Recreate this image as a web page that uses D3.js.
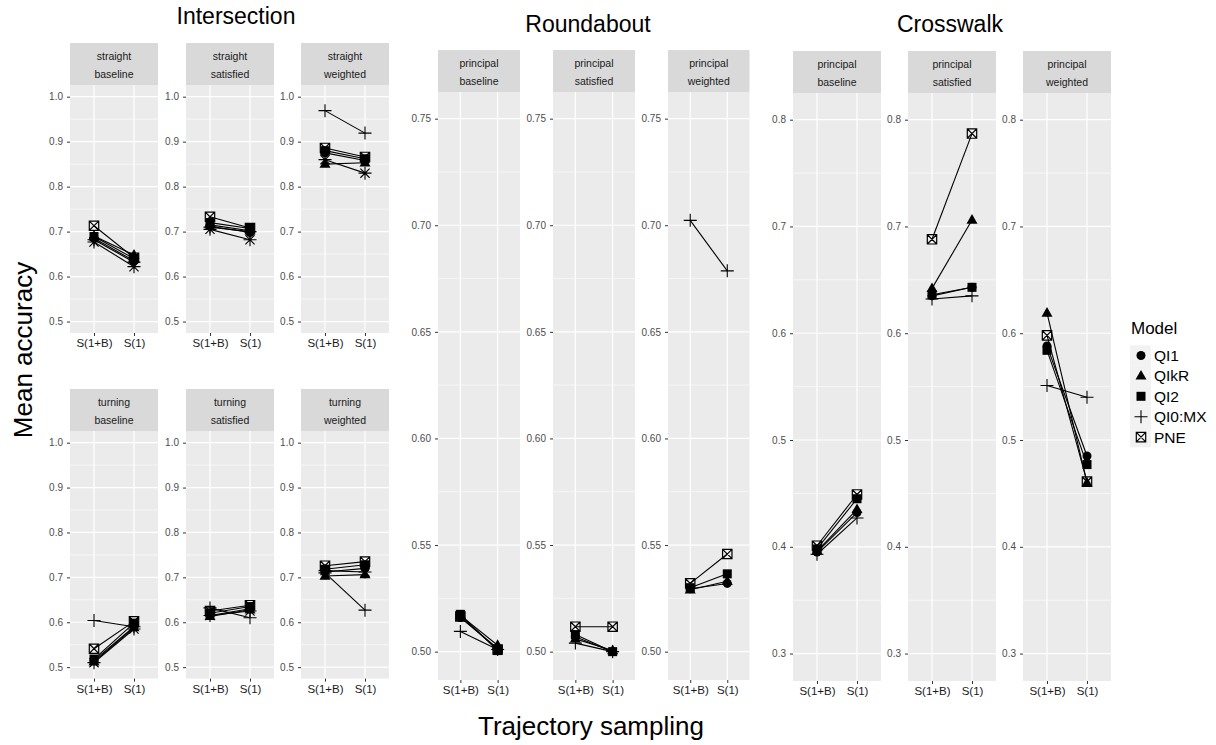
<!DOCTYPE html>
<html>
<head>
<meta charset="utf-8">
<script src="https://cdn.jsdelivr.net/npm/d3@7"></script>
<style>
  html, body { margin: 0; padding: 0; background: #fff; }
  svg { display: block; font-family: "Liberation Sans", Arial, sans-serif; }
</style>
</head>
<body>
<svg id="chart" width="1216" height="745"></svg>
<script>
// ---- data ---------------------------------------------------------------
const samplings = ["S(1+B)", "S(1)"];
// order of series inside every panel array below
const models = ["QI1", "QIkR", "QI2", "QI0:MX", "PNE", "QI1:MX"];
const legendModels = ["QI1", "QIkR", "QI2", "QI0:MX", "PNE"];
const shapes = ["circle", "triangle", "square", "plus", "boxcross", "asterisk"];

// Intersection, one [S(1+B), S(1)] pair per model
const intStraightBaseline  = [[0.685, 0.635], [0.690, 0.648], [0.689, 0.640], [0.682, 0.632], [0.713, 0.642], [0.677, 0.622]];
const intStraightSatisfied = [[0.712, 0.698], [0.715, 0.702], [0.720, 0.707], [0.710, 0.700], [0.733, 0.708], [0.705, 0.682]];
const intStraightWeighted  = [[0.875, 0.858], [0.850, 0.853], [0.880, 0.862], [0.969, 0.919], [0.886, 0.866], [0.860, 0.830]];
const intTurningBaseline   = [[0.515, 0.590], [0.512, 0.588], [0.518, 0.598], [0.604, 0.590], [0.541, 0.602], [0.510, 0.585]];
const intTurningSatisfied  = [[0.615, 0.630], [0.613, 0.628], [0.620, 0.635], [0.632, 0.610], [0.625, 0.638], [0.615, 0.625]];
const intTurningWeighted   = [[0.712, 0.720], [0.703, 0.706], [0.718, 0.728], [0.710, 0.627], [0.726, 0.735], [0.715, 0.712]];

// Roundabout (five models)
const rbBaseline  = [[0.5160, 0.5015], [0.5170, 0.5030], [0.5175, 0.5005], [0.5095, 0.5010], [0.5165, 0.5010]];
const rbSatisfied = [[0.5070, 0.5000], [0.5060, 0.5005], [0.5080, 0.5000], [0.5040, 0.5000], [0.5117, 0.5117]];
const rbWeighted  = [[0.5295, 0.5320], [0.5290, 0.5330], [0.5300, 0.5365], [0.7023, 0.6786], [0.5320, 0.5458]];

// Crosswalk (five models)
const cwBaseline  = [[0.395, 0.432], [0.396, 0.435], [0.398, 0.445], [0.393, 0.427], [0.401, 0.449]];
const cwSatisfied = [[0.635, 0.643], [0.642, 0.706], [0.636, 0.643], [0.632, 0.635], [0.688, 0.787]];
const cwWeighted  = [[0.588, 0.485], [0.619, 0.460], [0.584, 0.477], [0.551, 0.540], [0.598, 0.461]];

// axis ticks
const intTicks = [0.5, 0.6, 0.7, 0.8, 0.9, 1.0];
const rbTicks  = [0.50, 0.55, 0.60, 0.65, 0.70, 0.75];
const cwTicks  = [0.3, 0.4, 0.5, 0.6, 0.7, 0.8];

const groupTitles = ["Intersection", "Roundabout", "Crosswalk"];

// ---- layout -------------------------------------------------------------
const svg = d3.select("#chart");
const intCols = [[70, 158], [186, 274], [301, 389]];
const rbCols  = [[438, 520], [553, 635], [668, 749.5]];
const cwCols  = [[793, 881], [908, 996], [1023, 1111]];
const weights = ["baseline", "satisfied", "weighted"];

const panels = [];
const intTop = { strip: 43, top: 85, bottom: 333 };
const intBot = { strip: 389, top: 431, bottom: 678.6 };
[intStraightBaseline, intStraightSatisfied, intStraightWeighted].forEach((v, i) =>
  panels.push({ cols: intCols[i], rows: intTop, domain: [0.4745, 1.026], ticks: intTicks, fmt: d3.format(".1f"),
                strip: ["straight", weights[i]], values: v }));
[intTurningBaseline, intTurningSatisfied, intTurningWeighted].forEach((v, i) =>
  panels.push({ cols: intCols[i], rows: intBot, domain: [0.4745, 1.026], ticks: intTicks, fmt: d3.format(".1f"),
                strip: ["turning", weights[i]], values: v }));
[rbBaseline, rbSatisfied, rbWeighted].forEach((v, i) =>
  panels.push({ cols: rbCols[i], rows: { strip: 50, top: 92, bottom: 680 }, domain: [0.4867, 0.7625], ticks: rbTicks,
                fmt: d3.format(".2f"), strip: ["principal", weights[i]], values: v }));
[cwBaseline, cwSatisfied, cwWeighted].forEach((v, i) =>
  panels.push({ cols: cwCols[i], rows: { strip: 51, top: 93, bottom: 681 }, domain: [0.2743, 0.825], ticks: cwTicks,
                fmt: d3.format(".1f"), strip: ["principal", weights[i]], values: v }));

// ---- point shapes -------------------------------------------------------
function drawShape(g, shape, cx, cy) {
  const s = g.append("g").attr("transform", `translate(${cx},${cy})`);
  if (shape === "circle") {
    s.append("circle").attr("r", 4.5).attr("fill", "#000");
  } else if (shape === "triangle") {
    s.append("path").attr("d", "M0,-6L5.5,3.7L-5.5,3.7Z").attr("fill", "#000");
  } else if (shape === "square") {
    s.append("rect").attr("x", -4.5).attr("y", -4.5).attr("width", 9).attr("height", 9).attr("fill", "#000");
  } else if (shape === "plus") {
    s.append("path").attr("d", "M-6.5,0H6.5M0,-6.5V6.5").attr("stroke", "#000").attr("stroke-width", 1.1).attr("fill", "none");
  } else if (shape === "boxcross") {
    s.append("path").attr("d", "M-4.7,-4.7H4.7V4.7H-4.7ZM-4.7,-4.7L4.7,4.7M4.7,-4.7L-4.7,4.7")
      .attr("stroke", "#000").attr("stroke-width", 1.2).attr("fill", "none");
  } else if (shape === "asterisk") {
    s.append("path").attr("d", "M-6.5,0H6.5M0,-6.5V6.5M-4.6,-4.6L4.6,4.6M4.6,-4.6L-4.6,4.6")
      .attr("stroke", "#000").attr("stroke-width", 1.1).attr("fill", "none");
  }
}

// ---- panels -------------------------------------------------------------
panels.forEach(p => {
  const [x0, x1] = p.cols;
  const g = svg.append("g");
  const x = d3.scalePoint().domain(samplings).range([x0, x1]).padding(0.6);
  const y = d3.scaleLinear().domain(p.domain).range([p.rows.bottom, p.rows.top]);

  // strip
  g.append("rect").attr("x", x0).attr("y", p.rows.strip).attr("width", x1 - x0)
    .attr("height", p.rows.top - p.rows.strip).attr("fill", "#D9D9D9");
  const sh = p.rows.top - p.rows.strip;
  p.strip.forEach((t, k) => {
    g.append("text").attr("x", (x0 + x1) / 2).attr("y", p.rows.strip + sh * (k === 0 ? 0.34 : 0.76))
      .attr("text-anchor", "middle").attr("dominant-baseline", "middle")
      .attr("font-size", 10.5).attr("fill", "#1A1A1A").text(t);
  });

  // panel background and grid
  g.append("rect").attr("x", x0).attr("y", p.rows.top).attr("width", x1 - x0)
    .attr("height", p.rows.bottom - p.rows.top).attr("fill", "#EBEBEB");
  const step = p.ticks[1] - p.ticks[0];
  const minor = p.ticks.map(t => t + step / 2).concat([p.ticks[0] - step / 2])
    .filter(t => t > p.domain[0] && t < p.domain[1]);
  g.selectAll(null).data(minor).join("line")
    .attr("x1", x0).attr("x2", x1).attr("y1", d => y(d)).attr("y2", d => y(d))
    .attr("stroke", "#fff").attr("stroke-width", 0.6);
  g.selectAll(null).data(p.ticks).join("line")
    .attr("x1", x0).attr("x2", x1).attr("y1", d => y(d)).attr("y2", d => y(d))
    .attr("stroke", "#fff").attr("stroke-width", 1.2);
  g.selectAll(null).data(samplings).join("line")
    .attr("x1", d => x(d)).attr("x2", d => x(d)).attr("y1", p.rows.top).attr("y2", p.rows.bottom)
    .attr("stroke", "#fff").attr("stroke-width", 1.2);

  // axes
  const ya = g.append("g").attr("transform", `translate(${x0},0)`)
    .call(d3.axisLeft(y).tickValues(p.ticks).tickFormat(p.fmt).tickSize(3).tickPadding(4));
  ya.select(".domain").remove();
  ya.selectAll(".tick line").attr("stroke", "#333");
  ya.selectAll(".tick text").attr("fill", "#4D4D4D").attr("font-size", 10).attr("font-family", null);

  const xa = g.append("g").attr("transform", `translate(0,${p.rows.bottom})`)
    .call(d3.axisBottom(x).tickSize(3).tickPadding(3));
  xa.select(".domain").remove();
  xa.selectAll(".tick line").attr("stroke", "#333");
  xa.selectAll(".tick text").attr("fill", "#1A1A1A").attr("font-size", 11.5).attr("font-family", null);

  // lines then points
  const line = d3.line().x((d, i) => x(samplings[i])).y(d => y(d));
  p.values.forEach(v => {
    g.append("path").attr("d", line(v)).attr("fill", "none").attr("stroke", "#000").attr("stroke-width", 1.1);
  });
  p.values.forEach((v, m) => {
    v.forEach((val, i) => drawShape(g, shapes[m], x(samplings[i]), y(val)));
  });
});

// ---- titles -------------------------------------------------------------
const titlePos = [[236, 24], [588, 32], [950, 32]];
groupTitles.forEach((t, i) => {
  svg.append("text").attr("x", titlePos[i][0]).attr("y", titlePos[i][1])
    .attr("text-anchor", "middle").attr("font-size", 23).attr("fill", "#000").text(t);
});

svg.append("text").attr("transform", "translate(32,350) rotate(-90)")
  .attr("text-anchor", "middle").attr("font-size", 26).attr("fill", "#000").text("Mean accuracy");
svg.append("text").attr("x", 591).attr("y", 735)
  .attr("text-anchor", "middle").attr("font-size", 26).attr("fill", "#000").text("Trajectory sampling");

// ---- legend -------------------------------------------------------------
const lg = svg.append("g");
lg.append("text").attr("x", 1131).attr("y", 334).attr("font-size", 17).attr("fill", "#000").text("Model");
legendModels.forEach((m, i) => {
  const cy = 355.5 + i * 20.4;
  lg.append("rect").attr("x", 1130).attr("y", cy - 10.2).attr("width", 21).attr("height", 20.4).attr("fill", "#F2F2F2");
  drawShape(lg, shapes[models.indexOf(m)], 1141, cy);
  lg.append("text").attr("x", 1154).attr("y", cy).attr("dominant-baseline", "central")
    .attr("font-size", 15.5).attr("fill", "#000").text(m);
});
</script>
</body>
</html>
